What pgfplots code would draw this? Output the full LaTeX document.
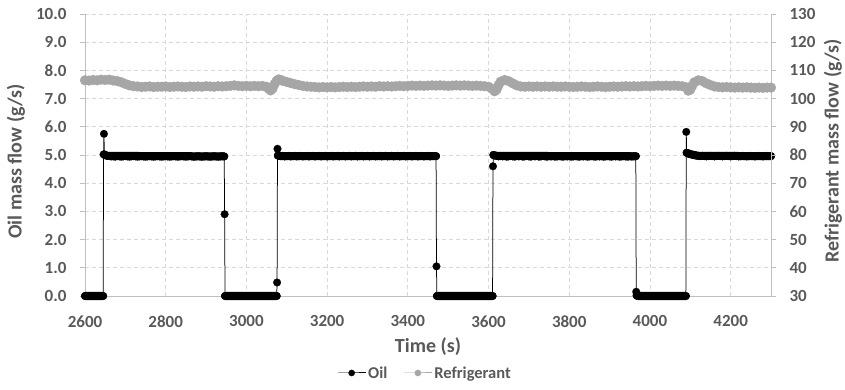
\documentclass[border=0pt]{standalone}
\usepackage{fontspec}
\setmainfont{Carlito}
\usepackage{pgfplots}
\pgfplotsset{compat=1.18}
\definecolor{txt}{HTML}{595959}
\definecolor{axl}{HTML}{BFBFBF}
\definecolor{grd}{HTML}{D9D9D9}
\definecolor{refc}{HTML}{A6A6A6}
\pgfplotsset{
  base/.style={
    scale only axis, width=686bp, height=282bp,
    xmin=2600, xmax=4300, clip=false,
    /pgf/number format/assume math mode=true,
    tick label style={font=\fontsize{17bp}{20bp}\selectfont\bfseries, text=txt},
    axis line style={draw=axl, line width=0.75bp},
    tick align=outside, major tick length=5bp,
  },
  oilstyle/.style={draw=black, line width=0.75bp, mark=*, mark size=3.9bp,
    mark options={fill=black, draw=black, line width=0.1bp}},
  refstyle/.style={draw=refc, line width=7bp, line join=round, line cap=round, mark=*, mark size=5bp,
    mark options={fill=refc, draw=refc, line width=0.1bp}},
}
\begin{document}
\begin{tikzpicture}
\path[use as bounding box] (-85bp,-94bp) rectangle (760bp,296bp);
% frame, grid, left ticks and labels
\begin{axis}[base,
  ymin=0, ymax=10,
  axis x line*=bottom, axis y line*=left,
  xtick={2600,2800,...,4200}, ytick={0,1,...,10},
  xtick style={draw=none}, ytick style={draw=axl, line width=0.75bp},
  xticklabel style={/pgf/number format/1000 sep={}, yshift=-11bp},
  yticklabel style={/pgf/number format/.cd, fixed, fixed zerofill, precision=1, /tikz/.cd, xshift=-10bp},
  grid=major, major grid style={draw=grd, dash pattern=on 4bp off 3bp, line width=0.75bp},
  xlabel={Time (s)}, ylabel={Oil mass flow (g/s)},
  every axis x label/.style={at={(axis description cs:0.5,-0.181)}, anchor=center,
    font=\fontsize{20bp}{23bp}\selectfont\bfseries, text=txt},
  every axis y label/.style={at={(axis description cs:-0.1006,0.477)}, anchor=center, rotate=90,
    font=\fontsize{20bp}{23bp}\selectfont\bfseries, text=txt},
]
\end{axis}
% oil series, on top of the grid
\begin{axis}[base, ymin=0, ymax=10, hide axis]
% the dense runs of markers on each plateau
\addplot[forget plot, draw=black, line width=8bp, line cap=round, line join=round, unbounded coords=jump] coordinates {
(2600,0)(2645,0)(2646,nan)
(2648,5.02)(2655,4.97)(2945,4.95)(2946,nan)
(2947,0)(3075,0)(3076,nan)
(3078,4.98)(3085,4.96)(3470,4.96)(3471,nan)
(3472,0)(3610,0)(3611,nan)
(3612,5.00)(3620,4.97)(3965,4.955)(3966,nan)
(3967,0.02)(3970,0)(4089,0)(4090,nan)
(4091,5.08)(4100,5.03)(4120,4.97)(4300,4.96)
};
\addplot[oilstyle] coordinates {
(2600,0)(2605,0)(2610,0)(2615,0)(2620,0)(2625,0)(2630,0)(2635,0)(2640,0)(2645,0)(2646,5.02)(2647,5.75)(2648,5.02)
(2650,4.99)(2655,4.97)(2660,4.96)(2665,4.95)(2670,4.95)(2675,4.94)(2680,4.96)(2685,4.95)(2690,4.94)(2695,4.95)(2700,4.96)(2705,4.95)(2710,4.94)(2715,4.95)(2720,4.96)(2725,4.95)(2730,4.94)(2735,4.95)(2740,4.96)(2745,4.95)(2750,4.94)(2755,4.95)(2760,4.96)(2765,4.95)(2770,4.94)(2775,4.95)(2780,4.96)(2785,4.95)(2790,4.94)(2795,4.95)(2800,4.96)(2805,4.95)(2810,4.94)(2815,4.95)(2820,4.96)(2825,4.95)(2830,4.94)(2835,4.95)(2840,4.96)(2845,4.95)(2850,4.94)(2855,4.95)(2860,4.96)(2865,4.95)(2870,4.94)(2875,4.95)(2880,4.96)(2885,4.95)(2890,4.94)(2895,4.95)(2900,4.96)(2905,4.95)(2910,4.94)(2915,4.95)(2920,4.96)(2925,4.95)(2930,4.94)(2935,4.95)(2940,4.96)(2945,4.95)
(2946,2.90)(2947,0)(2950,0)(2955,0)(2960,0)(2965,0)(2970,0)(2975,0)(2980,0)(2985,0)(2990,0)(2995,0)(3000,0)(3005,0)(3010,0)(3015,0)(3020,0)(3025,0)(3030,0)(3035,0)(3040,0)(3045,0)(3050,0)(3055,0)(3060,0)(3065,0)(3070,0)(3075,0)
(3076,0.48)(3077,5.22)(3078,4.98)(3080,4.97)(3085,4.96)(3090,4.97)(3095,4.95)(3100,4.96)(3105,4.97)(3110,4.95)(3115,4.96)(3120,4.97)(3125,4.95)(3130,4.96)(3135,4.97)(3140,4.95)(3145,4.96)(3150,4.97)(3155,4.95)(3160,4.96)(3165,4.97)(3170,4.95)(3175,4.96)(3180,4.97)(3185,4.95)(3190,4.96)(3195,4.97)(3200,4.95)(3205,4.96)(3210,4.97)(3215,4.95)(3220,4.96)(3225,4.97)(3230,4.95)(3235,4.96)(3240,4.97)(3245,4.95)(3250,4.96)(3255,4.97)(3260,4.95)(3265,4.96)(3270,4.97)(3275,4.95)(3280,4.96)(3285,4.97)(3290,4.95)(3295,4.96)(3300,4.97)(3305,4.95)(3310,4.96)(3315,4.97)(3320,4.95)(3325,4.96)(3330,4.97)(3335,4.95)(3340,4.96)(3345,4.97)(3350,4.95)(3355,4.96)(3360,4.97)(3365,4.95)(3370,4.96)(3375,4.97)(3380,4.95)(3385,4.96)(3390,4.97)(3395,4.95)(3400,4.96)(3405,4.97)(3410,4.95)(3415,4.96)(3420,4.97)(3425,4.95)(3430,4.96)(3435,4.97)(3440,4.95)(3445,4.96)(3450,4.97)(3455,4.95)(3460,4.96)(3465,4.97)(3470,4.96)
(3471,1.05)(3472,0)(3475,0)(3480,0)(3485,0)(3490,0)(3495,0)(3500,0)(3505,0)(3510,0)(3515,0)(3520,0)(3525,0)(3530,0)(3535,0)(3540,0)(3545,0)(3550,0)(3555,0)(3560,0)(3565,0)(3570,0)(3575,0)(3580,0)(3585,0)(3590,0)(3595,0)(3600,0)(3605,0)(3610,0)
(3611,4.60)(3612,5.00)(3615,4.98)(3620,4.97)(3625,4.95)(3630,4.96)(3635,4.95)(3640,4.96)(3645,4.94)(3650,4.95)(3655,4.96)(3660,4.95)(3665,4.94)(3670,4.96)(3675,4.95)(3680,4.96)(3685,4.94)(3690,4.95)(3695,4.96)(3700,4.95)(3705,4.94)(3710,4.96)(3715,4.95)(3720,4.96)(3725,4.94)(3730,4.95)(3735,4.96)(3740,4.95)(3745,4.94)(3750,4.96)(3755,4.95)(3760,4.96)(3765,4.94)(3770,4.95)(3775,4.96)(3780,4.95)(3785,4.94)(3790,4.96)(3795,4.95)(3800,4.96)(3805,4.94)(3810,4.95)(3815,4.96)(3820,4.95)(3825,4.94)(3830,4.96)(3835,4.95)(3840,4.96)(3845,4.94)(3850,4.95)(3855,4.96)(3860,4.95)(3865,4.94)(3870,4.96)(3875,4.95)(3880,4.96)(3885,4.94)(3890,4.95)(3895,4.96)(3900,4.95)(3905,4.94)(3910,4.96)(3915,4.95)(3920,4.96)(3925,4.94)(3930,4.95)(3935,4.96)(3940,4.95)(3945,4.94)(3950,4.96)(3955,4.95)(3960,4.96)(3965,4.96)
(3966,0.15)(3967,0.02)(3970,0)(3975,0)(3980,0)(3985,0)(3990,0)(3995,0)(4000,0)(4005,0)(4010,0)(4015,0)(4020,0)(4025,0)(4030,0)(4035,0)(4040,0)(4045,0)(4050,0)(4055,0)(4060,0)(4065,0)(4070,0)(4075,0)(4080,0)(4085,0)(4089,0)
(4090,5.82)(4091,5.08)(4095,5.05)(4100,5.03)(4105,5.01)(4110,4.99)(4115,4.98)(4120,4.97)(4125,4.96)(4130,4.97)(4135,4.96)(4140,4.95)(4145,4.96)(4150,4.97)(4155,4.96)(4160,4.95)(4165,4.96)(4170,4.97)(4175,4.96)(4180,4.95)(4185,4.96)(4190,4.97)(4195,4.96)(4200,4.95)(4205,4.96)(4210,4.97)(4215,4.96)(4220,4.95)(4225,4.96)(4230,4.97)(4235,4.96)(4240,4.95)(4245,4.96)(4250,4.97)(4255,4.96)(4260,4.95)(4265,4.96)(4270,4.97)(4275,4.96)(4280,4.95)(4285,4.96)(4290,4.97)(4295,4.96)(4300,4.96)
};
\end{axis}
% right axis and refrigerant series
\begin{axis}[base,
  ymin=30, ymax=130,
  axis y line*=right, axis x line=none,
  ytick={30,40,...,130},
  ytick style={draw=axl, line width=0.75bp},
  yticklabel style={xshift=10bp},
  ylabel={Refrigerant mass flow (g/s)},
  every axis y label/.style={at={(axis description cs:1.0904,0.514)}, anchor=center, rotate=90,
    font=\fontsize{20bp}{23bp}\selectfont\bfseries, text=txt},
  legend style={at={(axis description cs:0.4956,-0.273)}, anchor=center, draw=none, fill=none,
    font=\fontsize{16.5bp}{19bp}\selectfont\bfseries, text=txt,
    legend columns=2, /tikz/every even column/.append style={column sep=14bp}},
  legend cell align=left,
  legend image code/.code={\draw[mark repeat=2, mark phase=2, #1, mark size=3.2bp, line width=1bp, line cap=butt] plot coordinates {(0bp,0bp) (14bp,0bp) (28bp,0bp)};},
]
\addlegendimage{oilstyle}
\addlegendentry{Oil}
\addplot[refstyle] coordinates {
(2600,106.5)(2610,106.4)(2620,106.6)(2630,106.5)(2640,106.7)(2650,106.6)(2660,106.7)(2670,106.4)(2680,106.2)(2690,105.8)(2700,105.2)(2710,104.7)(2720,104.4)(2730,104.3)(2740,104.1)(2750,104.2)(2760,104.3)(2770,104.1)(2780,104.2)(2790,104.2)(2800,104.3)(2810,104.1)(2820,104.2)(2830,104.3)(2840,104.2)(2850,104.1)(2860,104.3)(2870,104.2)(2880,104.3)(2890,104.2)(2900,104.4)(2910,104.3)(2920,104.2)(2930,104.4)(2940,104.3)(2950,104.4)(2960,104.5)(2970,104.7)(2980,104.5)(2990,104.4)(3000,104.5)(3010,104.4)(3020,104.5)(3030,104.4)(3040,104.5)(3050,104.2)(3055,103.5)(3060,102.9)(3065,103.6)(3070,105.2)(3075,106.3)(3080,106.8)(3085,106.6)(3090,106.3)(3100,105.9)(3110,105.5)(3120,105.1)(3130,104.8)(3140,104.5)(3150,104.3)(3160,104.2)(3170,104.1)(3180,104.0)(3190,104.1)(3200,104.0)(3210,104.1)(3220,104.0)(3230,104.1)(3240,104.2)(3250,104.1)(3260,104.2)(3270,104.1)(3280,104.2)(3290,104.3)(3300,104.2)(3310,104.3)(3320,104.2)(3330,104.4)(3340,104.3)(3350,104.4)(3360,104.3)(3370,104.4)(3380,104.5)(3390,104.4)(3400,104.5)(3410,104.6)(3420,104.5)(3430,104.6)(3440,104.5)(3450,104.6)(3460,104.7)(3470,104.6)(3480,104.7)(3490,104.6)(3500,104.5)(3510,104.6)(3520,104.7)(3530,104.6)(3540,104.7)(3550,104.6)(3560,104.5)(3570,104.6)(3580,104.5)(3590,104.4)(3600,104.2)(3610,103.4)(3615,102.6)(3620,103.2)(3625,104.8)(3630,106.0)(3640,106.6)(3650,106.2)(3660,105.4)(3670,104.7)(3680,104.3)(3690,104.2)(3700,104.3)(3710,104.2)(3720,104.3)(3730,104.2)(3740,104.3)(3750,104.2)(3760,104.3)(3770,104.2)(3780,104.2)(3790,104.3)(3800,104.2)(3810,104.1)(3820,104.2)(3830,104.3)(3840,104.2)(3850,104.1)(3860,104.2)(3870,104.3)(3880,104.2)(3890,104.1)(3900,104.2)(3910,104.3)(3920,104.2)(3930,104.3)(3940,104.4)(3950,104.3)(3960,104.4)(3970,104.3)(3980,104.4)(3990,104.5)(4000,104.4)(4010,104.5)(4020,104.6)(4030,104.5)(4040,104.6)(4050,104.5)(4060,104.6)(4070,104.5)(4080,104.4)(4090,104.0)(4095,102.8)(4100,103.2)(4105,104.6)(4110,105.8)(4120,106.5)(4130,106.2)(4140,105.4)(4150,104.8)(4160,104.3)(4170,104.1)(4180,104.0)(4190,104.1)(4200,104.0)(4210,103.9)(4220,104.0)(4230,103.9)(4240,104.0)(4250,103.9)(4260,103.8)(4270,103.9)(4280,103.8)(4290,103.9)(4300,103.9)
};
\addlegendentry{Refrigerant}
\end{axis}
\end{tikzpicture}
\end{document}
